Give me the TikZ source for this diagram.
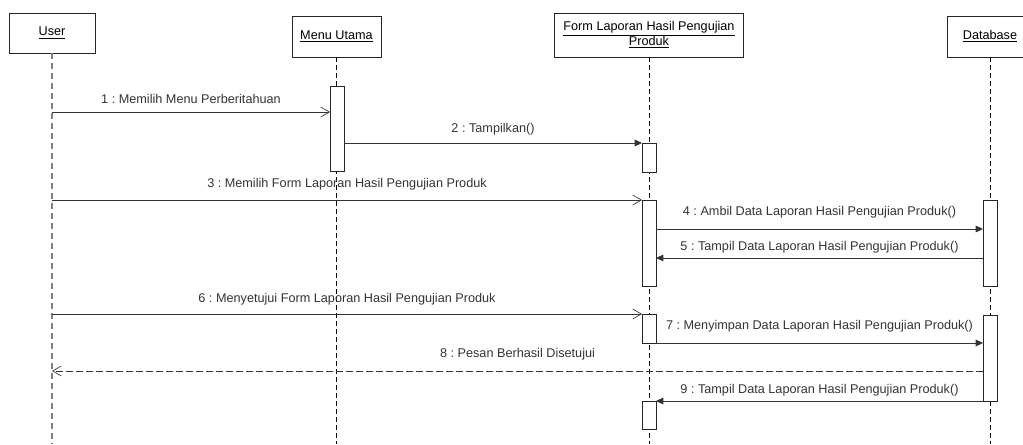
\documentclass[tikz,border=0pt]{standalone}
\usepackage{fontspec}
\setmainfont{Liberation Sans}
\usetikzlibrary{arrows.meta}
\frenchspacing

\begin{document}
\begin{tikzpicture}[x=0.75pt, y=-0.75pt,
    font=\fontsize{9.5}{11.25}\selectfont,
    obj/.style={draw=black!85, line width=0.6pt, fill=white, align=center, inner sep=0pt, outer sep=0pt},
    act/.style={draw=black!85, line width=0.6pt, fill=white, minimum width=10.5pt, inner sep=0pt, outer sep=0pt},
    life/.style={black, line width=0.5pt, dash pattern=on 3.75pt off 2.25pt},
    call/.style={black!80, line width=0.6pt, -{Triangle[length=5.5pt,width=5pt]}},
    send/.style={black!80, line width=0.6pt, -{Straight Barb[length=6.5pt,width=7.5pt,line width=0.5pt]}},
    reply/.style={send, dash pattern=on 5pt off 2.5pt},
    lbl/.style={midway, inner sep=0pt}]
    \useasboundingbox (0,0) rectangle (1023,444);

    % 对象
    \node[obj, minimum width=64.5pt, minimum height=30pt] (user) at (52,33) {\underline{User}};
    \node[obj, minimum width=66.75pt, minimum height=30.75pt] (menu) at (336.5,36.5) {\underline{Menu Utama}};
    \node[obj, minimum width=141.75pt, minimum height=33pt] (form) at (649,35)
        {\underline{Form Laporan Hasil Pengujian}\\\underline{Produk}};
    \node[obj, minimum width=64.5pt, minimum height=30.75pt] (db) at (990,36.5) {\underline{Database}};

    % 生命线
    \draw[life, draw=gray, line width=0.9pt, dash pattern=on 4.5pt off 3pt] (user.south) -- (user |- 0,444);
    \draw[life] (menu.south) -- (menu |- 0,444);
    \draw[life] (form.south) -- (form |- 0,444);
    \draw[life] (db.south) -- (db |- 0,444);

    % 激活框
    \node[act, minimum height=63.75pt] (m1) at (337,128.5) {};
    \node[act, minimum height=21.75pt] (f1) at (649,157.5) {};
    \node[act, minimum height=64.5pt] (f2) at (649,243) {};
    \node[act, minimum height=64.5pt] (d1) at (990,243) {};
    \node[act, minimum height=21.75pt] (f3) at (649,328.5) {};
    \node[act, minimum height=64.5pt] (d2) at (990,358) {};
    \node[act, minimum height=21pt] (f4) at (649,415) {};

    % 消息
    \draw[send] (user |- 0,112) -- node[lbl, above=5.9pt] {1 : Memilih Menu Perberitahuan} (m1.west |- 0,112);
    \draw[call] (m1.east |- f1.north) -- node[lbl, above=5.9pt] {2 : Tampilkan()} (f1.north west);
    \draw[send] (user |- f2.north) -- node[lbl, above=7.4pt] {3 : Memilih Form Laporan Hasil Pengujian Produk} (f2.north west);
    \draw[call] (f2.east |- 0,229) -- node[lbl, above=7.7pt] {4 : Ambil Data Laporan Hasil Pengujian Produk()} (d1.west |- 0,229);
    \draw[call] (d1.west |- 0,258) -- node[lbl, above=3.2pt] {5 : Tampil Data Laporan Hasil Pengujian Produk()} (f2.east |- 0,258);
    \draw[send] (user |- f3.north) -- node[lbl, above=6.6pt] {6 : Menyetujui Form Laporan Hasil Pengujian Produk} (f3.north west);
    \draw[call] (f3.south east) -- node[lbl, above=7.7pt] {7 : Menyimpan Data Laporan Hasil Pengujian Produk()} (d2.west |- f3.south);
    \draw[reply] (d2.west |- 0,371) -- node[lbl, above=8pt] {8 : Pesan Berhasil Disetujui} (user |- 0,371);
    \draw[call] (d2.south west) -- node[lbl, above=3.2pt] {9 : Tampil Data Laporan Hasil Pengujian Produk()} (f4.north east);
\end{tikzpicture}
\end{document}
